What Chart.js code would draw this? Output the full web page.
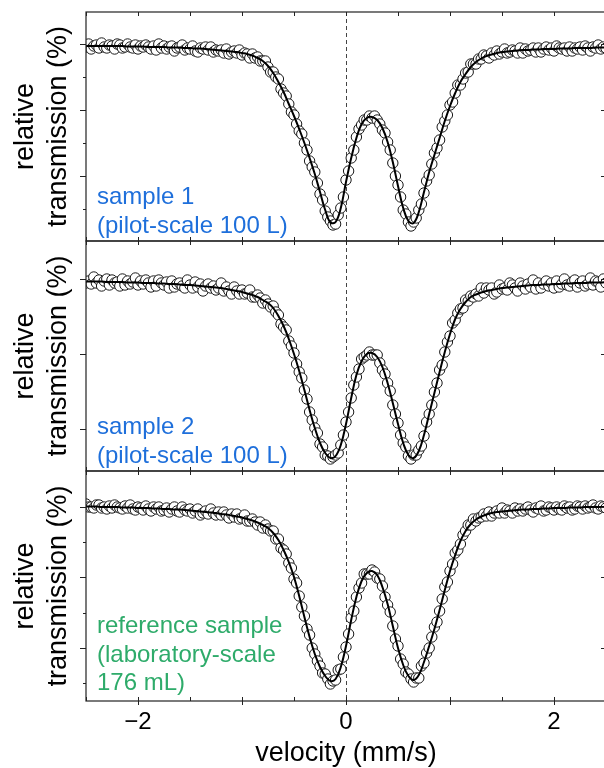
<!DOCTYPE html>
<html>
<head>
<meta charset="utf-8">
<script src="https://cdn.jsdelivr.net/npm/chart.js@4.4.0/dist/chart.umd.min.js"></script>
<style>
  html, body { margin: 0; padding: 0; background: #fff; overflow: hidden; }
  #wrap { position: relative; width: 604px; height: 768px; overflow: hidden; }
  canvas { position: absolute; left: 0; top: 0; }
</style>
</head>
<body>
<div id="wrap">
  <canvas id="panel1" width="610" height="768"></canvas>
  <canvas id="panel2" width="610" height="768"></canvas>
  <canvas id="panel3" width="610" height="768"></canvas>
</div>
<script>
// velocity channels (mm/s) of the measured points
const velocity = [
  -2.5,-2.475,-2.45,-2.425,-2.4,-2.375,-2.35,-2.325,-2.3,-2.275,
  -2.25,-2.225,-2.2,-2.175,-2.15,-2.125,-2.1,-2.075,-2.05,-2.025,
  -2,-1.975,-1.95,-1.925,-1.9,-1.875,-1.85,-1.825,-1.8,-1.775,
  -1.75,-1.725,-1.7,-1.675,-1.65,-1.625,-1.6,-1.575,-1.55,-1.525,
  -1.5,-1.475,-1.45,-1.425,-1.4,-1.375,-1.35,-1.325,-1.3,-1.275,
  -1.25,-1.225,-1.2,-1.175,-1.15,-1.125,-1.1,-1.075,-1.05,-1.025,
  -1,-0.975,-0.95,-0.925,-0.9,-0.875,-0.85,-0.825,-0.8,-0.775,
  -0.75,-0.725,-0.7,-0.675,-0.65,-0.625,-0.6,-0.575,-0.55,-0.525,
  -0.5,-0.475,-0.45,-0.425,-0.4,-0.375,-0.35,-0.325,-0.3,-0.275,
  -0.25,-0.225,-0.2,-0.175,-0.15,-0.125,-0.1,-0.075,-0.05,-0.025,
  0,0.025,0.05,0.075,0.1,0.125,0.15,0.175,0.2,0.225,
  0.25,0.275,0.3,0.325,0.35,0.375,0.4,0.425,0.45,0.475,
  0.5,0.525,0.55,0.575,0.6,0.625,0.65,0.675,0.7,0.725,
  0.75,0.775,0.8,0.825,0.85,0.875,0.9,0.925,0.95,0.975,
  1,1.025,1.05,1.075,1.1,1.125,1.15,1.175,1.2,1.225,
  1.25,1.275,1.3,1.325,1.35,1.375,1.4,1.425,1.45,1.475,
  1.5,1.525,1.55,1.575,1.6,1.625,1.65,1.675,1.7,1.725,
  1.75,1.775,1.8,1.825,1.85,1.875,1.9,1.925,1.95,1.975,
  2,2.025,2.05,2.075,2.1,2.125,2.15,2.175,2.2,2.225,
  2.25,2.275,2.3,2.325,2.35,2.375,2.4,2.425,2.45,2.475,
  2.5
];

// velocities where the fitted curve is given
const fitVelocity = [
  -2.5,-2.45,-2.4,-2.35,-2.3,-2.25,-2.2,-2.15,-2.1,-2.05,
  -2,-1.95,-1.9,-1.85,-1.8,-1.75,-1.7,-1.65,-1.6,-1.55,
  -1.5,-1.45,-1.4,-1.35,-1.3,-1.25,-1.2,-1.15,-1.1,-1.05,
  -1,-0.95,-0.9,-0.85,-0.8,-0.75,-0.7,-0.65,-0.6,-0.55,
  -0.5,-0.45,-0.4,-0.35,-0.3,-0.25,-0.2,-0.15,-0.1,-0.05,
  0,0.05,0.1,0.15,0.2,0.25,0.3,0.35,0.4,0.45,
  0.5,0.55,0.6,0.65,0.7,0.75,0.8,0.85,0.9,0.95,
  1,1.05,1.1,1.15,1.2,1.25,1.3,1.35,1.4,1.45,
  1.5,1.55,1.6,1.65,1.7,1.75,1.8,1.85,1.9,1.95,
  2,2.05,2.1,2.15,2.2,2.25,2.3,2.35,2.4,2.45,
  2.5
];

// relative transmission (%) - sample 1
const sample1Data = [
  99.97,100.00,99.95,99.98,99.99,99.96,100.01,99.97,99.96,99.99,
  99.98,99.95,100.00,99.99,99.96,99.97,100.00,99.97,99.96,99.99,
  99.95,99.98,99.97,99.99,99.97,99.95,99.98,99.94,100.00,99.96,
  99.98,99.95,99.97,99.98,99.93,99.96,99.97,99.99,99.94,99.96,
  99.95,99.98,99.93,99.92,99.96,99.95,99.97,99.94,99.97,99.92,
  99.94,99.93,99.94,99.91,99.95,99.90,99.92,99.93,99.91,99.94,
  99.89,99.91,99.90,99.86,99.90,99.86,99.87,99.83,99.83,99.83,
  99.77,99.72,99.72,99.67,99.65,99.55,99.51,99.48,99.40,99.32,
  99.29,99.20,99.13,99.10,99.01,98.94,98.83,98.77,98.72,98.61,
  98.50,98.44,98.33,98.27,98.23,98.19,98.20,98.29,98.36,98.47,
  98.64,98.73,98.86,98.94,99.07,99.15,99.19,99.24,99.24,99.28,
  99.26,99.28,99.24,99.20,99.14,99.11,99.02,98.94,98.81,98.68,
  98.59,98.47,98.34,98.30,98.22,98.18,98.22,98.26,98.34,98.40,
  98.51,98.63,98.69,98.80,98.91,98.96,99.04,99.17,99.23,99.29,
  99.39,99.42,99.51,99.59,99.59,99.65,99.71,99.72,99.80,99.80,
  99.80,99.85,99.85,99.89,99.88,99.86,99.91,99.89,99.93,99.90,
  99.92,99.95,99.91,99.92,99.94,99.93,99.91,99.96,99.91,99.95,
  99.93,99.94,99.96,99.92,99.96,99.92,99.95,99.97,99.94,99.96,
  99.93,99.98,99.96,99.95,99.96,99.93,99.97,99.93,99.96,99.95,
  99.97,99.94,99.98,99.96,99.93,99.97,99.96,99.99,99.95,99.97,
  99.96
];
const sample1Fit = [
  99.98,99.98,99.98,99.98,99.98,99.98,99.98,99.98,99.975,99.975,
  99.975,99.975,99.97,99.97,99.97,99.97,99.965,99.965,99.965,99.96,
  99.96,99.955,99.955,99.95,99.945,99.94,99.935,99.93,99.925,99.92,
  99.91,99.90,99.885,99.86,99.83,99.78,99.71,99.62,99.52,99.40,
  99.28,99.15,99.01,98.86,98.70,98.52,98.34,98.215,98.22,98.36,
  98.62,98.86,99.06,99.20,99.26,99.27,99.24,99.16,99.02,98.82,
  98.58,98.36,98.23,98.21,98.32,98.52,98.72,98.89,99.06,99.23,
  99.38,99.51,99.62,99.70,99.77,99.82,99.855,99.88,99.895,99.91,
  99.92,99.925,99.93,99.935,99.94,99.94,99.945,99.945,99.95,99.95,
  99.95,99.955,99.955,99.955,99.96,99.96,99.96,99.96,99.965,99.965,
  99.965
];

// relative transmission (%) - sample 2
const sample2Data = [
  99.96,99.98,99.95,100.02,99.96,99.99,99.93,99.98,100.00,99.94,
  99.99,99.96,99.97,99.93,100.00,99.94,99.98,99.95,99.97,100.01,
  99.94,99.98,99.95,99.99,99.96,99.92,99.98,99.93,99.99,99.96,
  99.94,99.97,99.91,99.98,99.92,99.95,99.96,99.93,99.91,99.99,
  99.94,99.91,99.97,99.92,99.95,99.88,99.93,99.95,99.91,99.93,
  99.89,99.91,99.96,99.88,99.92,99.88,99.85,99.92,99.88,99.85,
  99.89,99.85,99.86,99.89,99.82,99.82,99.84,99.81,99.76,99.79,
  99.75,99.72,99.73,99.67,99.64,99.55,99.52,99.49,99.38,99.33,
  99.26,99.15,99.07,99.01,98.89,98.80,98.67,98.59,98.51,98.46,
  98.35,98.32,98.24,98.23,98.20,98.22,98.24,98.26,98.34,98.44,
  98.57,98.67,98.81,98.94,99.02,99.10,99.20,99.22,99.24,99.27,
  99.24,99.24,99.24,99.16,99.09,99.05,98.96,98.88,98.74,98.65,
  98.56,98.44,98.36,98.32,98.23,98.20,98.24,98.24,98.29,98.33,
  98.43,98.57,98.65,98.74,98.87,98.96,99.09,99.14,99.27,99.37,
  99.43,99.56,99.59,99.66,99.70,99.71,99.79,99.78,99.83,99.82,
  99.85,99.83,99.91,99.86,99.91,99.89,99.91,99.85,99.87,99.94,
  99.90,99.91,99.89,99.96,99.94,99.91,99.88,99.96,99.93,99.90,
  99.95,99.92,99.99,99.90,99.96,99.91,99.95,99.98,99.93,99.96,
  99.91,99.98,99.92,99.95,100.00,99.94,99.93,99.97,99.99,99.92,
  99.96,99.98,99.93,99.95,100.01,99.94,99.98,99.97,99.92,100.00,
  99.96
];
const sample2Fit = [
  99.975,99.975,99.975,99.975,99.97,99.97,99.97,99.97,99.965,99.965,
  99.965,99.96,99.96,99.96,99.955,99.955,99.95,99.95,99.945,99.94,
  99.94,99.935,99.93,99.925,99.92,99.915,99.91,99.90,99.89,99.88,
  99.87,99.855,99.84,99.82,99.79,99.76,99.71,99.63,99.53,99.40,
  99.25,99.08,98.89,98.69,98.51,98.36,98.26,98.21,98.23,98.34,
  98.55,98.81,99.04,99.18,99.25,99.26,99.22,99.12,98.96,98.76,
  98.55,98.36,98.24,98.21,98.28,98.44,98.65,98.86,99.07,99.27,
  99.45,99.60,99.70,99.77,99.82,99.845,99.865,99.88,99.89,99.90,
  99.91,99.915,99.92,99.925,99.93,99.935,99.94,99.94,99.945,99.945,
  99.95,99.95,99.955,99.955,99.96,99.96,99.96,99.965,99.965,99.965,
  99.97
];

// relative transmission (%) - reference sample
const refData = [
  100.03,100.00,100.00,99.99,100.02,100.02,99.99,100.00,99.98,100.01,
  99.99,100.02,100.00,99.99,99.98,100.01,99.99,100.02,99.98,99.97,
  100.00,99.99,99.97,100.01,99.98,99.96,100.00,99.98,100.00,99.96,
  99.97,99.99,99.95,99.98,100.00,99.96,99.95,100.00,99.97,99.96,
  99.98,99.94,99.96,99.98,99.92,99.94,99.96,99.93,99.98,99.94,
  99.92,99.95,99.92,99.95,99.92,99.89,99.93,99.90,99.93,99.88,
  99.89,99.92,99.86,99.86,99.88,99.85,99.82,99.85,99.79,99.82,
  99.78,99.76,99.76,99.68,99.68,99.59,99.57,99.53,99.44,99.39,
  99.28,99.24,99.11,99.00,98.91,98.78,98.72,98.59,98.53,98.46,
  98.41,98.34,98.33,98.28,98.23,98.26,98.27,98.37,98.38,98.50,
  98.60,98.73,98.89,98.96,99.10,99.19,99.24,99.33,99.33,99.33,
  99.37,99.35,99.29,99.28,99.21,99.10,99.02,98.95,98.81,98.68,
  98.61,98.48,98.43,98.35,98.33,98.28,98.25,98.29,98.29,98.41,
  98.44,98.54,98.59,98.70,98.80,98.85,98.96,99.08,99.20,99.25,
  99.36,99.43,99.54,99.57,99.63,99.72,99.76,99.82,99.82,99.88,
  99.86,99.89,99.90,99.93,99.91,99.95,99.91,99.94,99.96,99.94,
  99.99,99.94,99.97,99.96,99.94,99.99,99.96,99.98,99.96,99.98,
  100.00,99.97,99.95,99.99,99.98,100.01,99.96,99.97,100.00,99.99,
  99.97,100.00,99.98,99.97,100.01,99.99,100.00,99.97,99.98,100.01,
  100.00,99.98,100.01,99.99,100.00,100.02,99.99,99.98,100.01,100.00,
  99.99
];
const refFit = [
  100.005,100.005,100.005,100.00,100.00,100.00,100.00,99.995,99.995,99.995,
  99.99,99.99,99.99,99.985,99.985,99.98,99.98,99.975,99.975,99.97,
  99.965,99.96,99.955,99.95,99.945,99.94,99.93,99.925,99.915,99.905,
  99.895,99.88,99.865,99.845,99.82,99.79,99.74,99.67,99.57,99.45,
  99.30,99.11,98.90,98.70,98.53,98.40,98.31,98.26,98.28,98.40,
  98.61,98.87,99.10,99.26,99.34,99.36,99.32,99.20,99.03,98.81,
  98.59,98.42,98.31,98.27,98.32,98.45,98.61,98.78,98.97,99.17,
  99.36,99.52,99.66,99.76,99.83,99.875,99.905,99.925,99.94,99.95,
  99.955,99.96,99.965,99.97,99.975,99.975,99.98,99.98,99.985,99.985,
  99.99,99.99,99.99,99.995,99.995,99.995,100.00,100.00,100.00,100.00,
  100.00
];

// axis ticks
const xInnerTicks = [-2.5, -2, -1.5, -1, -0.5, 0, 0.5, 1, 1.5, 2, 2.5];
const xOuterTicks = [-2, -1, 0, 1, 2];
const xLabelTicks = [-2, 0, 2];
const xTickLabels = ['\u22122', '0', '2'];

const sample1YMajor = [100.00, 99.34, 98.68];
const sample1YMinor = [99.67, 99.01, 98.35];
const sample2YMajor = [100.00, 99.25, 98.50];
const sample2YMinor = [];
const refYMajor = [100.00, 99.30, 98.59];
const refYMinor = [99.65, 98.94, 98.24];

const sample1Label = ['sample 1', '(pilot-scale 100 L)'];
const sample2Label = ['sample 2', '(pilot-scale 100 L)'];
const refLabel = ['reference sample', '(laboratory-scale', '176 mL)'];

const FONT = '"Liberation Sans", Arial, Helvetica, sans-serif';
const BLUE = '#1e6fdb';
const GREEN = '#2eab6a';

const panels = [
  { id: 'panel1', data: sample1Data, fit: sample1Fit, yMin: 98.03, yMax: 100.32,
    major: sample1YMajor, minor: sample1YMinor, label: sample1Label, color: BLUE,
    top: 12, bottom: 241, labelY: 204, xAxis: false },
  { id: 'panel2', data: sample2Data, fit: sample2Fit, yMin: 98.08, yMax: 100.38,
    major: sample2YMajor, minor: sample2YMinor, label: sample2Label, color: BLUE,
    top: 241, bottom: 471, labelY: 434, xAxis: false },
  { id: 'panel3', data: refData, fit: refFit, yMin: 98.06, yMax: 100.36,
    major: refYMajor, minor: refYMinor, label: refLabel, color: GREEN,
    top: 471, bottom: 701, labelY: 633, xAxis: true }
];

// frame, ticks, dashed zero line and texts
function panelDecor(p) {
  return {
    id: 'decor_' + p.id,
    beforeDatasetsDraw(chart) {
      const { ctx, chartArea: a, scales: { x } } = chart;
      const x0 = Math.round(x.getPixelForValue(0)) + 0.5;
      ctx.save();
      ctx.strokeStyle = '#444';
      ctx.lineWidth = 1;
      ctx.setLineDash([4, 3]);
      ctx.beginPath();
      ctx.moveTo(x0, a.top);
      ctx.lineTo(x0, a.bottom);
      ctx.stroke();
      ctx.restore();
    },
    afterDatasetsDraw(chart) {
      const { ctx, chartArea: a, scales: { x, y } } = chart;
      ctx.save();
      ctx.strokeStyle = '#222';
      ctx.lineWidth = 1.2;
      ctx.strokeRect(a.left, a.top, a.right - a.left, a.bottom - a.top);

      ctx.beginPath();
      p.major.forEach(v => {
        const py = Math.round(y.getPixelForValue(v)) + 0.5;
        ctx.moveTo(a.left - 6, py); ctx.lineTo(a.left, py);
        ctx.moveTo(a.right - 5, py); ctx.lineTo(a.right, py);
      });
      p.minor.forEach(v => {
        const py = Math.round(y.getPixelForValue(v)) + 0.5;
        ctx.moveTo(a.left - 3, py); ctx.lineTo(a.left, py);
      });
      xInnerTicks.forEach(v => {
        const px = Math.round(x.getPixelForValue(v)) + 0.5;
        ctx.moveTo(px, a.top); ctx.lineTo(px, a.top + 4);
        ctx.moveTo(px, a.bottom); ctx.lineTo(px, a.bottom - 4);
      });
      if (p.xAxis) {
        xOuterTicks.forEach(v => {
          const px = Math.round(x.getPixelForValue(v)) + 0.5;
          ctx.moveTo(px, a.bottom); ctx.lineTo(px, a.bottom + 4);
        });
      }
      ctx.lineWidth = 1;
      ctx.stroke();

      // y title
      const cy = (a.top + a.bottom) / 2;
      ctx.fillStyle = '#000';
      ctx.font = '27px ' + FONT;
      ctx.textAlign = 'center';
      ctx.textBaseline = 'alphabetic';
      ctx.save();
      ctx.translate(33, cy);
      ctx.rotate(-Math.PI / 2);
      ctx.fillText('relative', 0, 0);
      ctx.restore();
      ctx.save();
      ctx.translate(66, cy);
      ctx.rotate(-Math.PI / 2);
      ctx.fillText('transmission (%)', 0, 0);
      ctx.restore();

      // sample label
      ctx.fillStyle = p.color;
      ctx.font = '24px ' + FONT;
      ctx.textAlign = 'left';
      p.label.forEach((t, i) => ctx.fillText(t, 97, p.labelY + i * 28.5));

      if (p.xAxis) {
        ctx.fillStyle = '#000';
        ctx.font = '24px ' + FONT;
        ctx.textAlign = 'center';
        xLabelTicks.forEach((v, i) => ctx.fillText(xTickLabels[i], x.getPixelForValue(v), a.bottom + 28));
        ctx.font = '27px ' + FONT;
        ctx.fillText('velocity (mm/s)', x.getPixelForValue(0), 761);
      }
      ctx.restore();
    }
  };
}

panels.forEach(p => {
  new Chart(document.getElementById(p.id), {
    type: 'scatter',
    data: {
      datasets: [
        {
          data: fitVelocity.map((v, i) => ({ x: v, y: p.fit[i] })),
          showLine: true,
          borderColor: '#000',
          borderWidth: 2,
          pointRadius: 0,
          tension: 0.4,
          order: 0
        },
        {
          data: velocity.map((v, i) => ({ x: v, y: p.data[i] })),
          showLine: false,
          pointRadius: 5.2,
          pointBorderWidth: 1,
          pointBorderColor: '#1a1a1a',
          pointBackgroundColor: '#fff',
          clip: 0,
          order: 1
        }
      ]
    },
    options: {
      responsive: false,
      animation: false,
      devicePixelRatio: 1,
      events: [],
      layout: {
        autoPadding: false,
        padding: { left: 86, right: 4, top: p.top, bottom: 768 - p.bottom }
      },
      plugins: { legend: { display: false }, tooltip: { enabled: false } },
      scales: {
        x: { type: 'linear', min: -2.5, max: 2.5, display: false },
        y: { type: 'linear', min: p.yMin, max: p.yMax, display: false }
      }
    },
    plugins: [panelDecor(p)]
  });
});
</script>
</body>
</html>
